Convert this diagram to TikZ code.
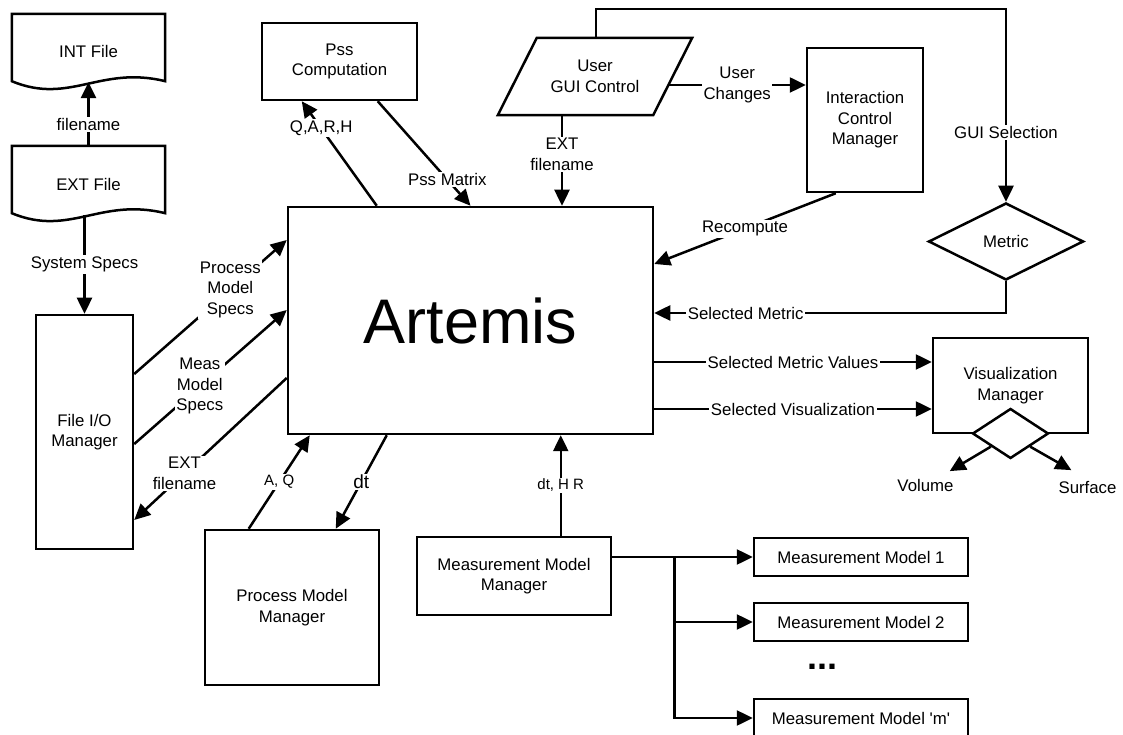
\documentclass[tikz,border=0pt]{standalone}
\usepackage{fontspec}
\setmainfont{Liberation Sans}
\usepackage{tikz}
\usetikzlibrary{arrows.meta, calc, shapes.geometric, positioning}
\newcommand{\diagfont}{\fontsize{16.8}{20.5}\selectfont}
\newcommand{\smallerfont}{\fontsize{15}{18}\selectfont}
\newcommand{\dtfont}{\fontsize{19}{22}\selectfont}
\newcommand{\titlefont}{\fontsize{63}{70}\selectfont}
\newcommand{\docoutline}[1]{\draw[docline] ([yshift=9pt]#1.south west) -- (#1.north west) -- (#1.north east)
  -- ([yshift=9pt]#1.south east) .. controls +(-65pt,16pt) and +(58pt,-24pt) .. ([yshift=9pt]#1.south west) -- cycle;}
\newcommand{\slantoutline}[1]{\draw[docline] ([xshift=-19.5pt]#1.south west) -- ([xshift=19.5pt]#1.north west)
  -- ([xshift=19.5pt]#1.north east) -- ([xshift=-19.5pt]#1.south east) -- cycle;}
\tikzset{
    boxnode/.style = {draw, rectangle, line width=2.5pt, inner sep=0.2em, node distance=0em},
    docnode/.style = {rectangle, minimum width=153pt, minimum height=76pt, inner sep=0em, node distance=0em},
    docline/.style = {line width=2.5pt, line join=miter},
    slantnode/.style = {rectangle, minimum width=155pt, minimum height=77pt, inner sep=0em, node distance=0em},
    decisionnode/.style = {draw, diamond, line width=2.5pt, inner sep=0em, node distance=0em},
    textnode/.style = {draw=none, fill=none, rectangle, inner sep=0.1em, node distance=0em},
    lbl/.style = {fill=white, inner sep=0.15em},
    connect/.style = {line width=2.5pt, -{Triangle[length=16pt, width=15pt]}},
    every text node part/.style={align=center}
}

\begin{document}
\begin{tikzpicture}[node distance=0em, every node/.append style={font=\diagfont}]
    \useasboundingbox (-470.5pt,-414.5pt) rectangle (652.5pt,320.5pt);

    \node [boxnode, name=artemis, minimum width=365pt, minimum height=227pt, font=\titlefont] at (0,0) {Artemis};

    \node [docnode, name=intfile, left of = artemis, xshift=-382pt, yshift=268.5pt] {INT File};
    \node [docnode, name=extfile, below of = intfile, yshift=-132pt] {EXT File};
    \docoutline{intfile}
    \docoutline{extfile}
    \node [boxnode, name=fileio, minimum width=97pt, minimum height=234pt, left of = artemis, xshift=-386pt, yshift=-111.5pt] {File I/O\\Manager};

    \node [boxnode, name=pss, minimum width=155pt, minimum height=77pt, left of = artemis, xshift=-131pt, yshift=259pt] {Pss\\Computation};
    \node [slantnode, name=usergui, right of = artemis, xshift=124.5pt, yshift=244pt] {User\\GUI Control};
    \slantoutline{usergui}
    \node [boxnode, name=icm, minimum width=116pt, minimum height=144pt, right of = artemis, xshift=394.5pt, yshift=200.5pt] {Interaction\\Control\\Manager};
    \node [decisionnode, name=metric, minimum width=155pt, minimum height=77pt, right of = artemis, xshift=535.5pt, yshift=79pt] {Metric};

    \node [boxnode, name=vis, minimum width=155pt, minimum height=95pt, right of = artemis, xshift=540pt, yshift=-65pt] {Visualization\\Manager};
    \node [decisionnode, name=visdia, fill=white, minimum width=76pt, minimum height=50pt, below of = vis, yshift=-48pt] {};
    \node [textnode, name=volume, below of = visdia, xshift=-85pt, yshift=-52pt] {Volume};
    \node [textnode, name=surface, below of = visdia, xshift=77pt, yshift=-54pt] {Surface};

    \node [boxnode, name=pmm, minimum width=174pt, minimum height=155pt, below of = artemis, xshift=-178.5pt, yshift=-287pt] {Process Model\\Manager};
    \node [boxnode, name=mmm, minimum width=194pt, minimum height=78pt, below of = artemis, xshift=43.5pt, yshift=-255.5pt] {Measurement Model\\Manager};

    \node [boxnode, name=mm1, minimum width=214pt, minimum height=38pt, below of = artemis, xshift=390.5pt, yshift=-236.5pt] {Measurement Model 1};
    \node [boxnode, name=mm2, minimum width=214pt, minimum height=38pt, below of = mm1, yshift=-65pt] {Measurement Model 2};
    \node [textnode, name=dots, below of = mm2, xshift=-39pt, yshift=-45pt, font=\fontsize{36}{36}\selectfont\bfseries] {...};
    \node [boxnode, name=mmlast, minimum width=214pt, minimum height=38pt, below of = mm2, yshift=-96pt] {Measurement Model \textquotesingle m\textquotesingle};

    \coordinate (intbottom) at ([yshift=8pt]intfile.south);
    \coordinate (extbottom) at ([yshift=7pt]extfile.south);
    \draw [connect] (extfile.north) -- node[lbl, pos=0.33] (lfilename) {filename} (intbottom);
    \draw [connect] (fileio.north |- extbottom) -- node[lbl] (lsysspecs) {System Specs} (fileio.north);

    \draw [connect] ([yshift=58pt]fileio.east) -- node[lbl, pos=0.63] (lpms) {Process\\Model\\Specs} ([yshift=80.5pt]artemis.west);
    \draw [connect] ([yshift=-12pt]fileio.east) -- node[lbl, pos=0.43] (lmms) {Meas\\Model\\Specs} ([yshift=10.5pt]artemis.west);
    \draw [connect] ([yshift=-57.5pt]artemis.west) -- node[lbl, pos=0.67] (lextfn) {EXT\\filename} ([yshift=-88pt]fileio.east);

    \draw [connect] ([xshift=90pt]artemis.north west) -- node[lbl, pos=0.74] (lqarh) {Q,A,R,H} ([xshift=41pt]pss.south west);
    \draw [connect] ([xshift=117pt]pss.south west) -- node[lbl, pos=0.75] (lpssm) {Pss Matrix} (artemis.north);

    \coordinate (guiout) at ([xshift=-33pt]usergui.south);
    \draw [connect] (guiout) -- node[lbl, pos=0.43] (lguifn) {EXT\\filename} (guiout |- artemis.north);
    \draw [connect] ([xshift=1pt]usergui.north) -- ++(0,29pt) -| node[lbl, pos=0.82] (lguisel) {GUI Selection} (metric.north);

    \coordinate (ucout) at ([xshift=-4pt]usergui.east);
    \coordinate (ucin) at ([yshift=35pt]icm.west);
    \draw [connect] (ucout |- ucin) -- node[lbl] (luch) {User\\Changes} (ucin);
    \draw [connect] ([xshift=30pt]icm.south west) -- node[lbl] (lrecomp) {Recompute} ([yshift=56.5pt]artemis.east);
    \draw [connect] (metric.south) |- node[lbl, pos=0.87] (lselm) {Selected Metric} ([yshift=7.5pt]artemis.east);

    \coordinate (smvin) at ([yshift=23.5pt]vis.west);
    \coordinate (svin) at ([yshift=-23.5pt]vis.west);
    \draw [connect] (artemis.east |- smvin) -- node[lbl] (lsmv) {Selected Metric Values} (smvin);
    \draw [connect] (artemis.east |- svin) -- node[lbl] (lsv) {Selected Visualization} (svin);
    \draw [connect] (visdia.south west) -- ([shift={(-5pt,7pt)}]volume.north east);
    \draw [connect] (visdia.south east) -- ([shift={(14pt,10pt)}]surface.north west);

    \draw [connect] ([xshift=45pt]pmm.north west) -- node[lbl, font=\smallerfont] (laq) {A, Q} ([xshift=23pt]artemis.south west);
    \draw [connect] ([xshift=100pt]artemis.south west) -- node[lbl, font=\dtfont] (ldt) {dt} ([xshift=132pt]pmm.north west);

    \coordinate (mmout) at ([xshift=145pt]mmm.north west);
    \draw [connect] (mmout) -- node[lbl, font=\smallerfont] (ldthr) {dt, H R} (mmout |- artemis.south);

    \coordinate (split) at ($(mmm.east |- mm1.west)+(62pt,0)$);
    \draw [connect] (mmm.east |- mm1.west) -- (mm1.west);
    \draw [connect] (split) |- (mm2.west);
    \draw [connect] (split) |- (mmlast.west);
\end{tikzpicture}
\end{document}
